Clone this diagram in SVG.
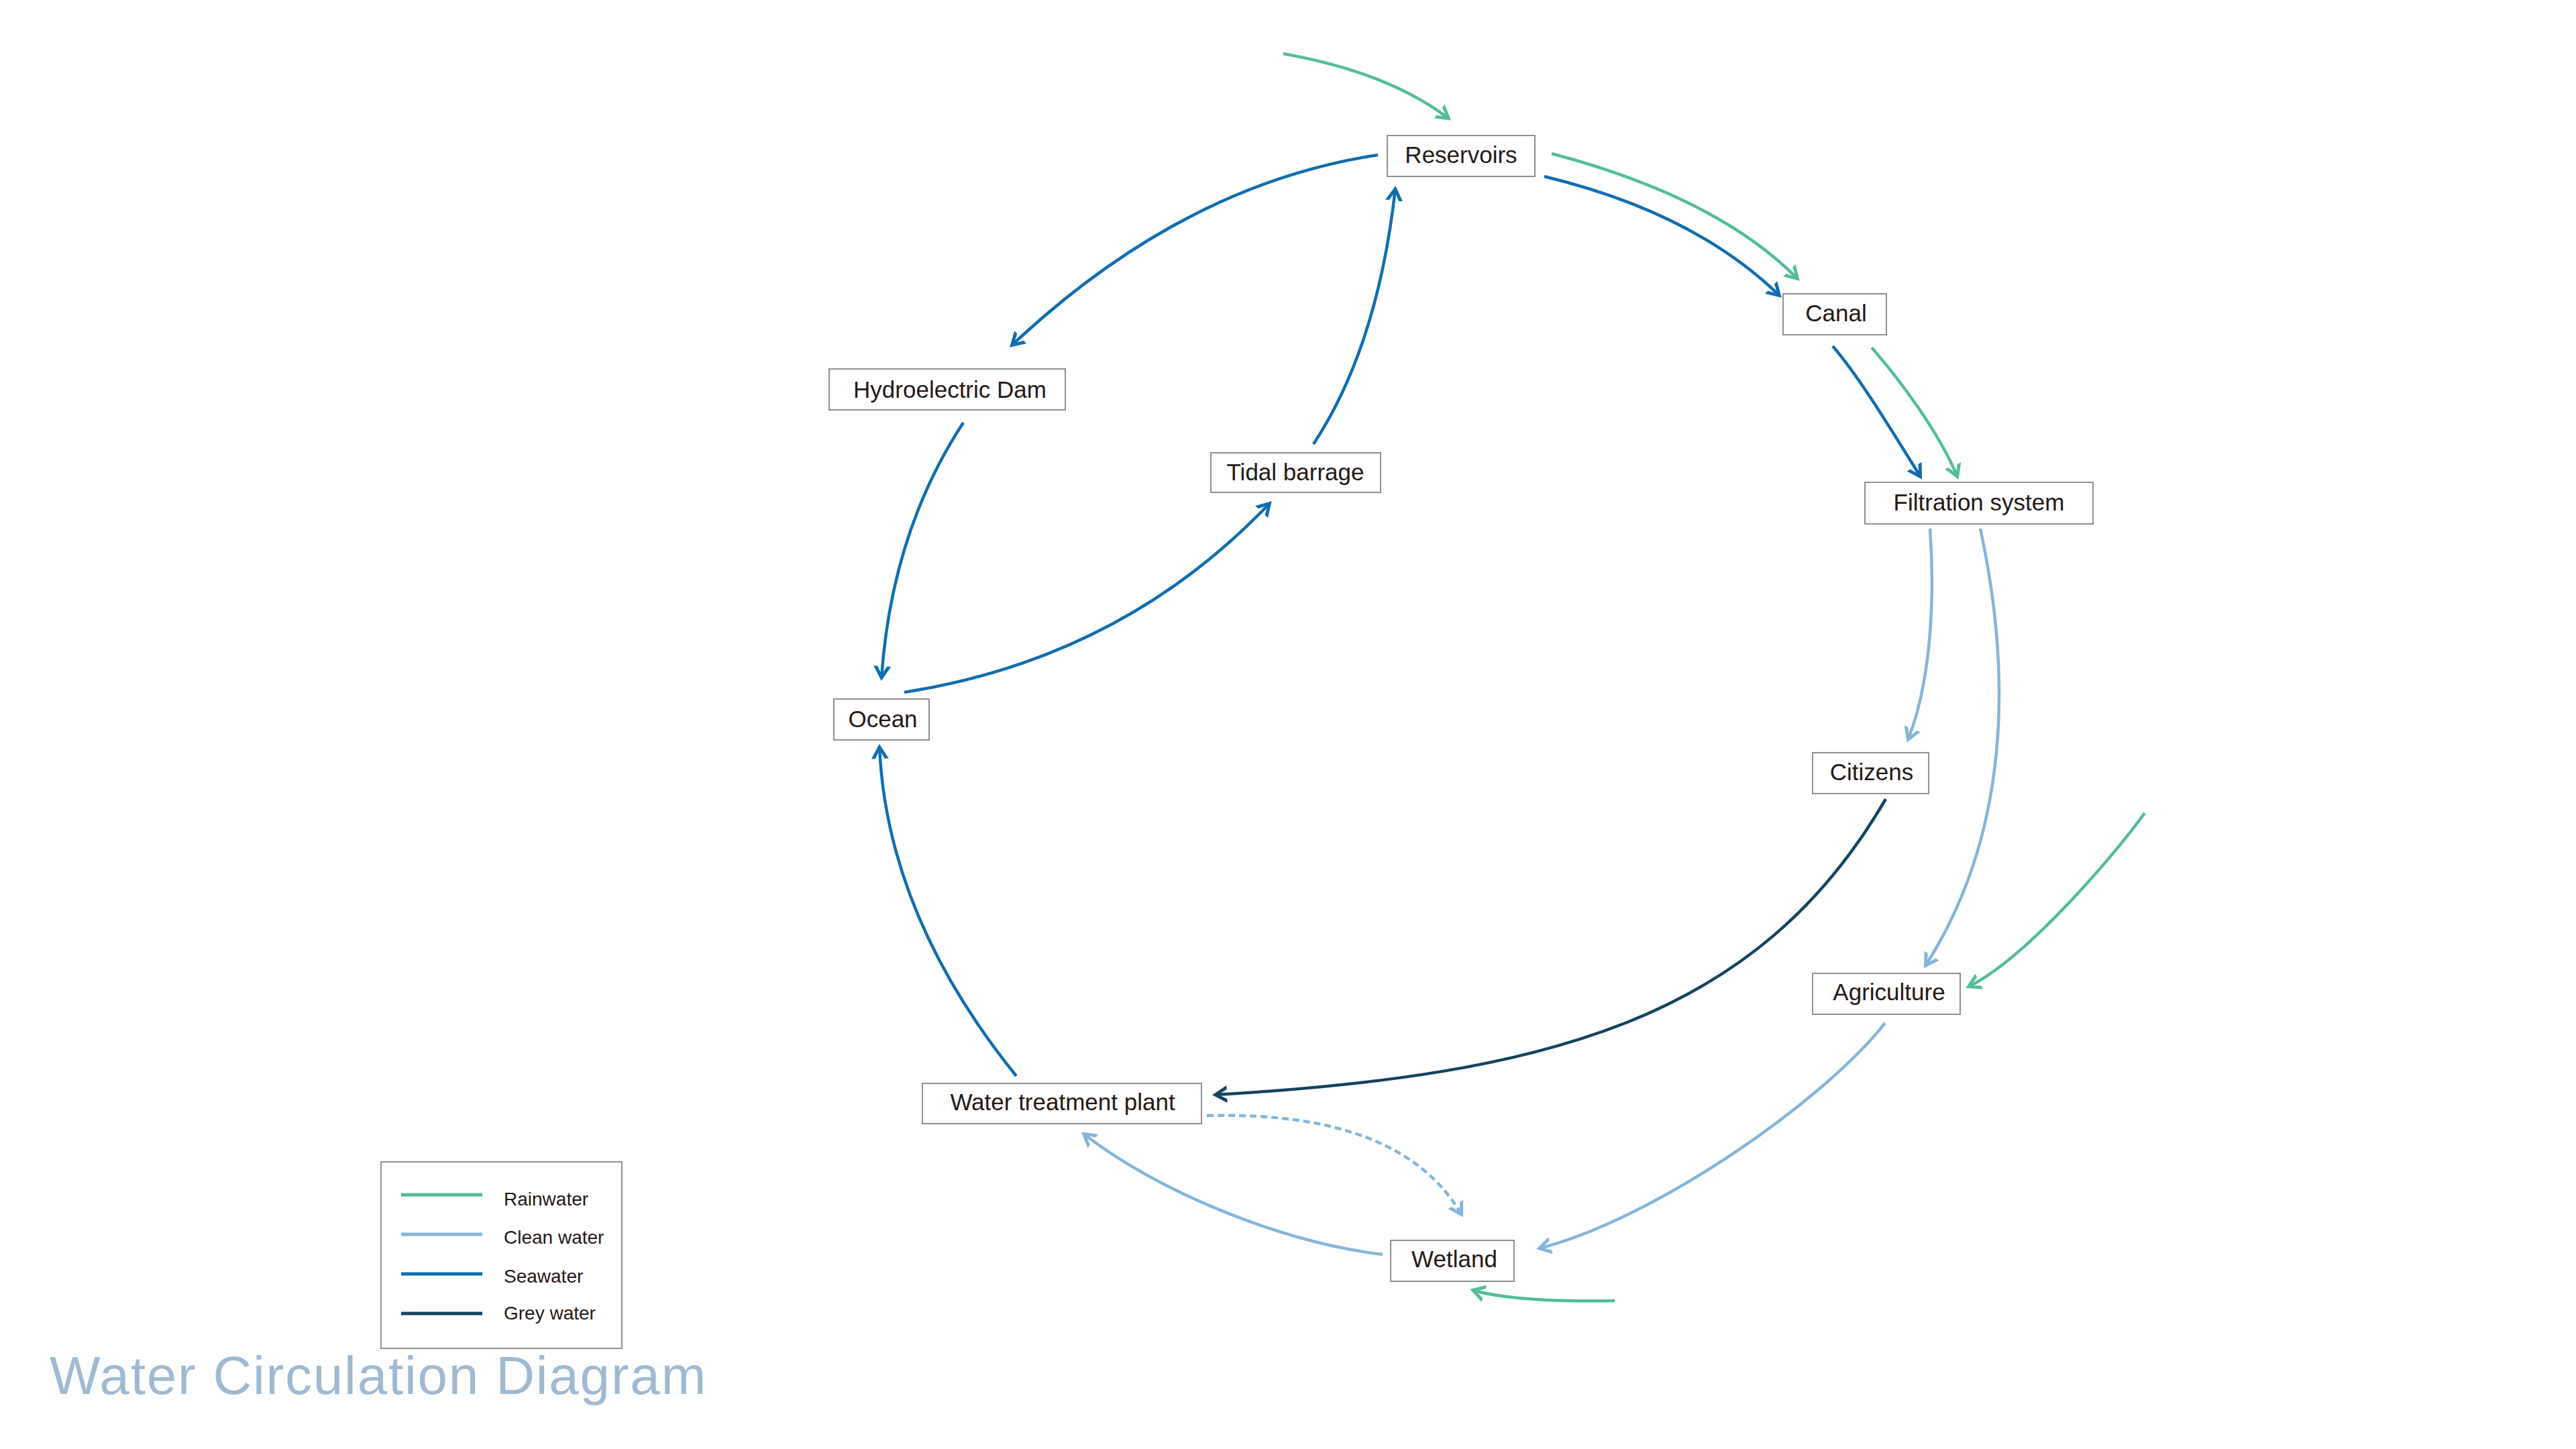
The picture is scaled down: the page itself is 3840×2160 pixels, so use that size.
<svg xmlns="http://www.w3.org/2000/svg" width="3840" height="2160" viewBox="0 0 3840 2160">
<style>
.box{fill:#ffffff;stroke:#8f8f8f;stroke-width:2}
.lbl{font-family:"Liberation Sans",Arial,sans-serif;font-size:35px;fill:#231815;text-anchor:middle}
.leg{font-family:"Liberation Sans",Arial,sans-serif;font-size:28px;fill:#231815}
.c{fill:none;stroke-width:4.5;stroke-linecap:butt}
.rain{stroke:#52bd98;marker-end:url(#m-rain)}
.clean{stroke:#84b5da;marker-end:url(#m-clean)}
.sea{stroke:#0f6daf;marker-end:url(#m-sea)}
.grey{stroke:#134460;marker-end:url(#m-grey)}
.dash{stroke-dasharray:10 6}
.ll{stroke-width:5}
</style>
<defs>
<marker id="m-rain" viewBox="-26 -15 30 30" refX="-4" refY="0" markerWidth="30" markerHeight="30" markerUnits="userSpaceOnUse" orient="auto"><path d="M0,0 L-22,-13 L-22,-7 L-9,0 L-22,7 L-22,13 Z" fill="#52bd98"/></marker>
<marker id="m-clean" viewBox="-26 -15 30 30" refX="-4" refY="0" markerWidth="30" markerHeight="30" markerUnits="userSpaceOnUse" orient="auto"><path d="M0,0 L-22,-13 L-22,-7 L-9,0 L-22,7 L-22,13 Z" fill="#84b5da"/></marker>
<marker id="m-sea" viewBox="-26 -15 30 30" refX="-4" refY="0" markerWidth="30" markerHeight="30" markerUnits="userSpaceOnUse" orient="auto"><path d="M0,0 L-22,-13 L-22,-7 L-9,0 L-22,7 L-22,13 Z" fill="#0f6daf"/></marker>
<marker id="m-grey" viewBox="-26 -15 30 30" refX="-4" refY="0" markerWidth="30" markerHeight="30" markerUnits="userSpaceOnUse" orient="auto"><path d="M0,0 L-22,-13 L-22,-7 L-9,0 L-22,7 L-22,13 Z" fill="#134460"/></marker>
</defs>
<rect width="3840" height="2160" fill="#ffffff"/>
<g id="connectors">
<path class="c rain" d="M1913,80 Q2070,108 2160,177"/>
<path class="c sea" d="M2054,231 Q1763,275 1508,515"/>
<path class="c sea" d="M1958,662 Q2054,516 2080,281"/>
<path class="c sea" d="M1436,630 Q1329,793 1314,1011"/>
<path class="c sea" d="M1348,1032 Q1673,981 1893,750"/>
<path class="c sea" d="M1515,1604 Q1322,1365 1311,1113"/>
<path class="c sea" d="M2302,263 Q2526,317 2653,441"/>
<path class="c rain" d="M2313,229 Q2560,294 2680,416"/>
<path class="c sea" d="M2732,516 C2772,562 2825,650 2863,711"/>
<path class="c rain" d="M2790,518 C2830,564 2890,643 2918,711"/>
<path class="c clean" d="M2877,788 C2884,883 2880,1014 2844,1103"/>
<path class="c clean" d="M2952,788 C2998,1000 2998,1240 2870,1440"/>
<path class="c grey" d="M2811,1191 C2620,1520 2307,1603 1811,1632"/>
<path class="c rain" d="M3197,1212 C3148,1280 3018,1430 2934,1471"/>
<path class="c clean" d="M2810,1525 C2717,1643 2465,1818 2294,1861"/>
<path class="c clean" d="M2061,1870 C1912,1852 1731,1779 1615,1690"/>
<path class="c clean dash" d="M1799,1663 C1999,1658 2121,1711 2179,1811"/>
<path class="c rain" d="M2407,1939 C2337,1940 2248,1939 2195,1923"/>
</g>
<g id="node-reservoirs"><rect class="box" x="2068" y="202" width="220" height="61"/><text class="lbl" x="2178" y="243">Reservoirs</text></g>
<g id="node-canal"><rect class="box" x="2658" y="438" width="154" height="61"/><text class="lbl" x="2737" y="479">Canal</text></g>
<g id="node-filtration"><rect class="box" x="2780" y="719" width="340" height="62"/><text class="lbl" x="2950" y="761">Filtration system</text></g>
<g id="node-citizens"><rect class="box" x="2702" y="1122" width="173" height="61"/><text class="lbl" x="2790" y="1163">Citizens</text></g>
<g id="node-agriculture"><rect class="box" x="2702" y="1451" width="220" height="61"/><text class="lbl" x="2816" y="1491">Agriculture</text></g>
<g id="node-wetland"><rect class="box" x="2073" y="1849" width="184" height="61"/><text class="lbl" x="2168" y="1889">Wetland</text></g>
<g id="node-wtp"><rect class="box" x="1375" y="1615" width="416" height="60"/><text class="lbl" x="1584" y="1655">Water treatment plant</text></g>
<g id="node-ocean"><rect class="box" x="1243" y="1042" width="142" height="61"/><text class="lbl" x="1316" y="1084">Ocean</text></g>
<g id="node-hydro"><rect class="box" x="1236" y="550" width="352" height="61"/><text class="lbl" x="1416" y="593">Hydroelectric Dam</text></g>
<g id="node-tidal"><rect class="box" x="1805" y="675" width="253" height="59"/><text class="lbl" x="1931" y="716">Tidal barrage</text></g>
<g id="legend">
<rect class="box" x="568" y="1732" width="359" height="278"/>
<line class="ll" x1="598" y1="1781" x2="719" y2="1781" stroke="#52bd98"/>
<line class="ll" x1="598" y1="1840" x2="719" y2="1840" stroke="#84b5da"/>
<line class="ll" x1="598" y1="1899" x2="719" y2="1899" stroke="#0f6daf"/>
<line class="ll" x1="598" y1="1958" x2="719" y2="1958" stroke="#134460"/>
<text class="leg" x="751" y="1797">Rainwater</text>
<text class="leg" x="751" y="1854">Clean water</text>
<text class="leg" x="751" y="1912">Seawater</text>
<text class="leg" x="751" y="1967">Grey water</text>
</g>
<text id="title" x="74" y="2078" font-family="'Liberation Sans',Arial,sans-serif" font-size="80" letter-spacing="1.8" fill="#9fbad0">Water Circulation Diagram</text>
</svg>
